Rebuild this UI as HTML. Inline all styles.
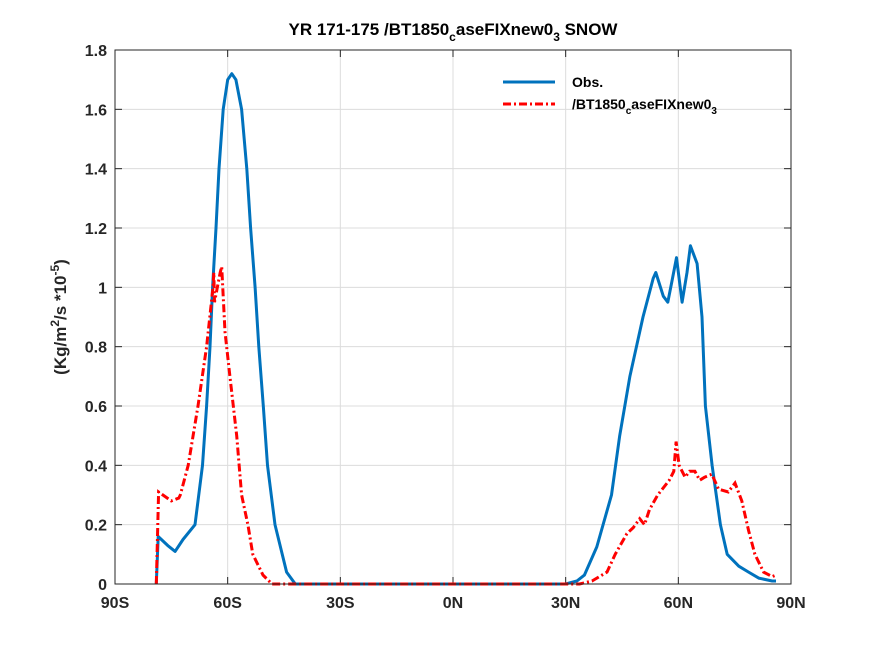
<!DOCTYPE html>
<html><head><meta charset="utf-8"><style>
body{margin:0;background:#fff}
svg{display:block;font-family:"Liberation Sans",sans-serif;font-weight:bold}
</style></head><body>
<svg id="chart" width="875" height="656" viewBox="0 0 875 656">
<rect width="875" height="656" fill="#fff"/>
<rect x="115" y="50" width="676" height="534" fill="#fff"/>
<g id="grid"></g>
<g id="ticks"></g>
<g id="series"></g>
<rect x="115" y="50" width="676" height="534" fill="none" stroke="#262626" stroke-width="1"/>
<text x="453" y="35" text-anchor="middle" font-size="17" fill="#000">YR 171-175 /BT1850<tspan font-size="12" dy="6">c</tspan><tspan dy="-6">aseFIXnew0</tspan><tspan font-size="12" dy="6">3</tspan><tspan dy="-6"> SNOW</tspan></text>
<text transform="translate(66,317) rotate(-90)" text-anchor="middle" font-size="17" fill="#262626">(Kg/m<tspan font-size="12" dy="-7">2</tspan><tspan dy="7">/s *10</tspan><tspan font-size="12" dy="-7">-5</tspan><tspan dy="7">)</tspan></text>
<g>
<line x1="503" y1="82" x2="555" y2="82" stroke="#0072BD" stroke-width="3"/>
<text x="572" y="87" font-size="14">Obs.</text>
<line x1="503" y1="104" x2="555" y2="104" stroke="#FF0000" stroke-width="3" stroke-dasharray="8,3,2,3"/>
<text x="572" y="109" font-size="14">/BT1850<tspan font-size="10" dy="5">c</tspan><tspan dy="-5">aseFIXnew0</tspan><tspan font-size="10" dy="5">3</tspan></text>
</g>
</svg>
<script>
const xTicks=[-90,-60,-30,0,30,60,90];
const xTickLabels=["90S","60S","30S","0N","30N","60N","90N"];
const yTicks=[0,0.2,0.4,0.6,0.8,1,1.2,1.4,1.6,1.8];
const yTickLabels=["0","0.2","0.4","0.6","0.8","1","1.2","1.4","1.6","1.8"];
const obsLat=[-79,-78.5,-76,-74,-71.9,-68.7,-66.7,-65.6,-64.7,-64,-63.1,-62.3,-61.2,-60,-58.9,-57.8,-56.3,-54.9,-53.9,-52.7,-51.7,-50.5,-49.4,-47.4,-44.3,-42,30,30.5,33,35,38.3,42.2,44.4,47.1,50.6,53.3,54,56,57.2,58.3,59.5,61,62.3,63.2,65,66.3,67.2,69,71.2,73,76.1,78.7,81.4,85,86];
const obsVal=[0,0.16,0.13,0.11,0.15,0.2,0.4,0.6,0.8,1.0,1.2,1.4,1.6,1.7,1.72,1.7,1.6,1.4,1.2,1.0,0.8,0.6,0.4,0.2,0.04,0,0,0.002,0.01,0.03,0.125,0.3,0.5,0.7,0.9,1.03,1.05,0.97,0.95,1.02,1.1,0.95,1.05,1.14,1.08,0.9,0.6,0.4,0.2,0.1,0.06,0.04,0.02,0.01,0.01];
const modLat=[-79,-78.4,-75,-73,-72.6,-70.5,-67.9,-65.6,-63.9,-63.7,-63.5,-62,-61.6,-60.7,-59.4,-57.6,-56.3,-54.6,-53.3,-50.6,-48.2,33.7,37,41,43.2,46.3,48,49.7,51,52.3,54.5,57.6,58.8,59.4,60.2,61.8,63,64.4,65.7,67,68.9,70.7,73.3,75.1,76.9,78.7,80.4,82.7,85,86];
const modVal=[0,0.31,0.28,0.29,0.3,0.4,0.6,0.8,1.0,1.05,0.95,1.05,1.07,0.85,0.7,0.5,0.3,0.2,0.1,0.03,0,0,0.01,0.04,0.1,0.17,0.19,0.22,0.2,0.25,0.3,0.35,0.38,0.48,0.4,0.36,0.38,0.38,0.35,0.36,0.37,0.32,0.31,0.34,0.28,0.18,0.1,0.04,0.025,0.03];
const NS="http://www.w3.org/2000/svg";
const X0=115,X1=791,Y0=584,Y1=50;
function xs(v){return X0+(v+90)/180*(X1-X0);}
function ys(v){return Y0-v/1.8*(Y0-Y1);}
function mk(tag,attrs,parent){const e=document.createElementNS(NS,tag);for(const k in attrs)e.setAttribute(k,attrs[k]);parent.appendChild(e);return e;}
const grid=document.getElementById('grid'),ticks=document.getElementById('ticks'),series=document.getElementById('series');
xTicks.forEach((t,i)=>{
 const x=xs(t);
 const g=mk('line',{x1:x,y1:Y1,x2:x,y2:Y0,stroke:'#dcdcdc','stroke-width':1},grid);
 
 
 mk('line',{x1:x,y1:Y0,x2:x,y2:Y0-7,stroke:'#262626'},ticks);
 mk('line',{x1:x,y1:Y1,x2:x,y2:Y1+7,stroke:'#262626'},ticks);
 const tx=mk('text',{x:x,y:Y0+24,'text-anchor':'middle','font-size':16,fill:'#262626'},ticks);
 
 
 tx.textContent=xTickLabels[i];
});
yTicks.forEach((t,i)=>{
 const y=ys(t);
 const g=mk('line',{x1:X0,y1:y,x2:X1,y2:y,stroke:'#dcdcdc','stroke-width':1},grid);
 
 
 mk('line',{x1:X0,y1:y,x2:X0+7,y2:y,stroke:'#262626'},ticks);
 mk('line',{x1:X1,y1:y,x2:X1-7,y2:y,stroke:'#262626'},ticks);
 const tx=mk('text',{x:X0-8,y:y+6,'text-anchor':'end','font-size':16,fill:'#262626'},ticks);
 
 
 tx.textContent=yTickLabels[i];
});
function pts(la,va){return la.map((l,i)=>xs(l).toFixed(1)+','+ys(va[i]).toFixed(1)).join(' ');}
const obs=mk('polyline',{points:pts(obsLat,obsVal),fill:'none',stroke:'#0072BD','stroke-width':3,'stroke-linejoin':'round'},series);


const mod=mk('polyline',{points:pts(modLat,modVal),fill:'none',stroke:'#FF0000','stroke-width':3,'stroke-dasharray':'8,3,2,3'},series);


</script>
</body></html>
